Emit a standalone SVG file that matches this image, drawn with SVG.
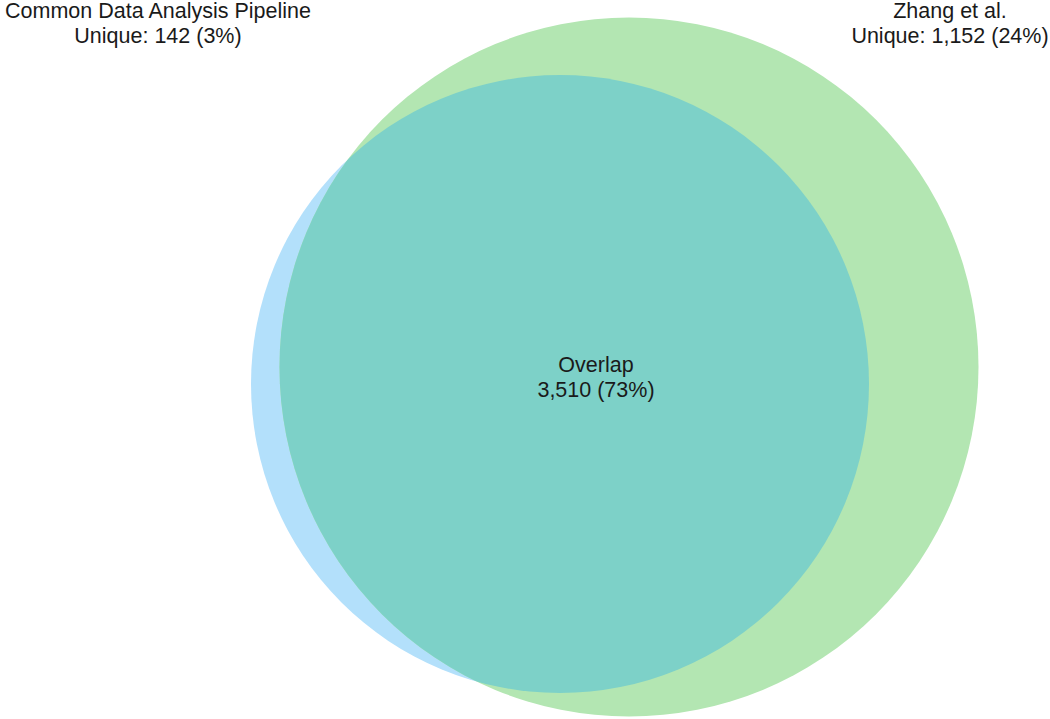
<svg xmlns="http://www.w3.org/2000/svg" width="1050" height="719" viewBox="0 0 1050 719">
<style>
text{font-family:"Liberation Sans",Arial,sans-serif;font-size:21.5px;fill:#1a1a1a;text-anchor:middle}
</style>
<defs>
<clipPath id="clipBlue"><circle cx="560" cy="384" r="309"/></clipPath>
</defs>
<rect width="1050" height="719" fill="#ffffff"/>
<g id="set-cdap"><circle cx="560" cy="384" r="309" fill="#b3e0fb"/></g>
<g id="set-zhang"><circle cx="629" cy="367" r="349.5" fill="#b3e6b2"/></g>
<g id="overlap"><circle cx="629" cy="367" r="349.5" fill="#7dd1c8" clip-path="url(#clipBlue)"/></g>
<g id="labels">
<text x="158" y="18">Common Data Analysis Pipeline</text>
<text x="158" y="43">Unique: 142 (3%)</text>
<text x="950" y="18">Zhang et al.</text>
<text x="950" y="43">Unique: 1,152 (24%)</text>
<text x="596" y="372">Overlap</text>
<text x="596" y="397">3,510 (73%)</text>
</g>
</svg>
